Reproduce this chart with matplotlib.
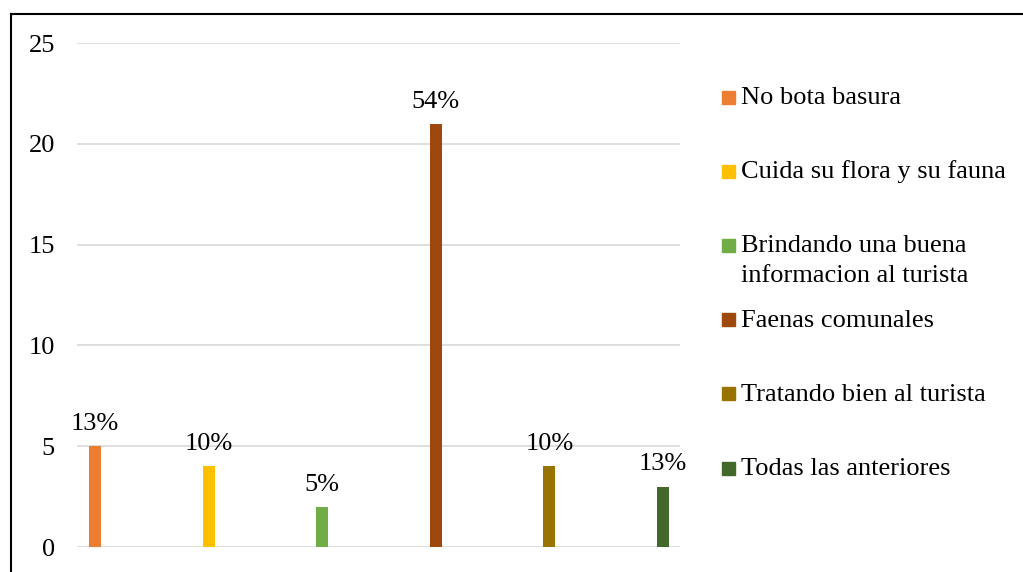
import matplotlib.pyplot as plt
from matplotlib.patches import Rectangle
from matplotlib.lines import Line2D

plt.rcParams['font.family'] = ['Liberation Serif', 'DejaVu Serif']

categorias = ['No bota basura', 'Cuida su flora y su fauna',
              'Brindando una buena\ninformacion al turista', 'Faenas comunales',
              'Tratando bien al turista', 'Todas las anteriores']
valores = [5, 4, 2, 21, 4, 3]
etiquetas = ['13%', '10%', '5%', '54%', '10%', '13%']
colores = ['#ED7D31', '#FFC000', '#70AD47', '#9E480E', '#997300', '#43682B']

W, H = 1023, 572
fs = 19
fig = plt.figure(figsize=(W / 100, H / 100), dpi=100)
ax = fig.add_axes([77 / W, (H - 547) / H, (680 - 77) / W, (547 - 43) / H])

pos = range(len(valores))
ax.bar(pos, valores, width=0.105, color=colores, zorder=3)
for x, v, t in zip(pos, valores, etiquetas):
    ax.annotate(t, (x, v), xytext=(0, 8), textcoords='offset points',
                ha='center', va='bottom', fontsize=fs)

ax.set_xlim(-0.16, 5.15)
ax.set_ylim(0, 25)
ax.set_yticks([0, 5, 10, 15, 20, 25])
ax.set_xticks([])
ax.grid(axis='y', color='#D9D9D9', linewidth=1.2, zorder=0)
for s in ax.spines.values():
    s.set_visible(False)
ax.tick_params(axis='y', length=0, pad=16, labelsize=fs)

# leyenda manual (cuadro alineado a la primera linea como en Excel)
for i, (c, col) in enumerate(zip(categorias, colores)):
    yc = 97 + 74.2 * i
    fig.add_artist(Rectangle((722 / W, 1 - (yc + 6.5) / H), 13 / W, 13 / H,
                             transform=fig.transFigure, color=col))
    for j, linea in enumerate(c.split('\n')):
        fig.text(741 / W, 1 - (yc + 7 + 30 * j) / H, linea, fontsize=fs,
                 va='baseline', ha='left')

# marco del grafico
fig.add_artist(Line2D([11 / W, 1], [1 - 14 / H, 1 - 14 / H], color='black', lw=1.5,
                      transform=fig.transFigure))
fig.add_artist(Line2D([11 / W, 11 / W], [0, 1 - 14 / H], color='black', lw=1.5,
                      transform=fig.transFigure))

fig.savefig('out.png', dpi=100)
